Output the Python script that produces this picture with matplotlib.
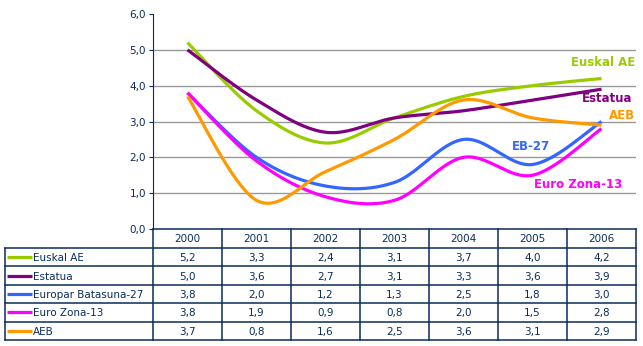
import matplotlib
matplotlib.use('Agg')
import matplotlib.pyplot as plt
import numpy as np

years = ['2000', '2001', '2002', '2003', '2004', '2005', '2006']
euskal_ae = [5.2, 3.3, 2.4, 3.1, 3.7, 4.0, 4.2]
estatua = [5.0, 3.6, 2.7, 3.1, 3.3, 3.6, 3.9]
eb27 = [3.8, 2.0, 1.2, 1.3, 2.5, 1.8, 3.0]
eurozona13 = [3.8, 1.9, 0.9, 0.8, 2.0, 1.5, 2.8]
aeb = [3.7, 0.8, 1.6, 2.5, 3.6, 3.1, 2.9]

names = ['Euskal AE', 'Estatua', 'Europar Batasuna-27', 'Euro Zona-13', 'AEB']
series = [euskal_ae, estatua, eb27, eurozona13, aeb]
colors = ['#99CC00', '#800080', '#3366FF', '#FF00FF', '#FF9900']

# end labels on the chart (text, x idx, y value)
chart_labels = [('Euskal AE', 6.02, 4.66), ('Estatua', 6.08, 3.63), ('AEB', 6.3, 3.18),
                ('EB-27', 4.98, 2.29), ('Euro Zona-13', 5.66, 1.23)]

navy = '#0A2C5C'
W, H = 643, 346


def smooth(y, n=40):
    # excel-like smoothed line (catmull-rom bezier)
    p = np.column_stack([np.arange(len(y)), y]).astype(float)
    pts = np.vstack([p[0], p, p[-1]])
    out = []
    t = np.linspace(0, 1, n)[:, None]
    for i in range(1, len(pts) - 2):
        p0, p1, p2, p3 = pts[i - 1], pts[i], pts[i + 1], pts[i + 2]
        c1 = p1 + (p2 - p0) / 6
        c2 = p2 - (p3 - p1) / 6
        seg = (1 - t) ** 3 * p1 + 3 * (1 - t) ** 2 * t * c1 + 3 * (1 - t) * t ** 2 * c2 + t ** 3 * p2
        out.append(seg)
    out = np.vstack(out)
    return out[:, 0], out[:, 1]


fig = plt.figure(figsize=(W / 100, H / 100), dpi=100)
fig.patch.set_facecolor('white')

x0, x1, ytop, ybot = 153, 636, 14, 229
ax = fig.add_axes([x0 / W, 1 - ybot / H, (x1 - x0) / W, (ybot - ytop) / H])
ax.set_xlim(-0.5, len(years) - 0.5)
ax.set_ylim(0, 6)
for s in ['top', 'right', 'bottom']:
    ax.spines[s].set_visible(False)
ax.spines['left'].set_color(navy)
ax.set_yticks(np.arange(0, 7, 1))
ax.set_yticklabels([f'{v:.1f}'.replace('.', ',') for v in np.arange(0, 7, 1)],
                   color=navy, fontsize=7.5)
ax.tick_params(axis='y', length=3, color=navy, pad=2)
ax.set_xticks([])
for v in range(1, 6):
    ax.axhline(v, color='#999999', lw=1, zorder=0)

for ys, c in zip(series, colors):
    sx, sy = smooth(ys)
    ax.plot(sx, sy, color=c, lw=2.3, solid_capstyle='butt', clip_on=False)

for (txt, lx, ly), c in zip(chart_labels, [colors[0], colors[1], colors[4], colors[2], colors[3]]):
    ax.text(lx, ly, txt, color=c, fontsize=8.5, fontweight='bold',
            ha='center', va='center', clip_on=False)

# data table below
tb = fig.add_axes([0, 0, 1, 1])
tb.set_xlim(0, W)
tb.set_ylim(H, 0)
tb.axis('off')
colw = (x1 - x0) / len(years)
hdr_top, hdr_bot = ybot, 248
rowh = (340 - hdr_bot) / len(names)
lw = 1.1
tb.plot([x0, x1], [hdr_top, hdr_top], color=navy, lw=lw)
for i in range(len(years) + 1):
    xx = x0 + i * colw
    tb.plot([xx, xx], [hdr_top, 340], color=navy, lw=lw)
tb.plot([5, 5], [hdr_bot, 340], color=navy, lw=lw)
for r in range(len(names) + 1):
    yy = hdr_bot + r * rowh
    tb.plot([5, x1], [yy, yy], color=navy, lw=lw)
for i, yr in enumerate(years):
    tb.text(x0 + (i + 0.5) * colw, (hdr_top + hdr_bot) / 2 + 1, yr,
            ha='center', va='center', color=navy, fontsize=7.5)
for r, (nm, ys, c) in enumerate(zip(names, series, colors)):
    yc = hdr_bot + (r + 0.5) * rowh
    tb.plot([7, 32], [yc, yc], color=c, lw=2.3, solid_capstyle='butt')
    tb.text(33, yc + 1, nm, ha='left', va='center', color=navy, fontsize=7.5)
    for i, v in enumerate(ys):
        tb.text(x0 + (i + 0.5) * colw, yc + 1, f'{v:.1f}'.replace('.', ','),
                ha='center', va='center', color=navy, fontsize=7.5)

fig.savefig('out.png', dpi=100)
